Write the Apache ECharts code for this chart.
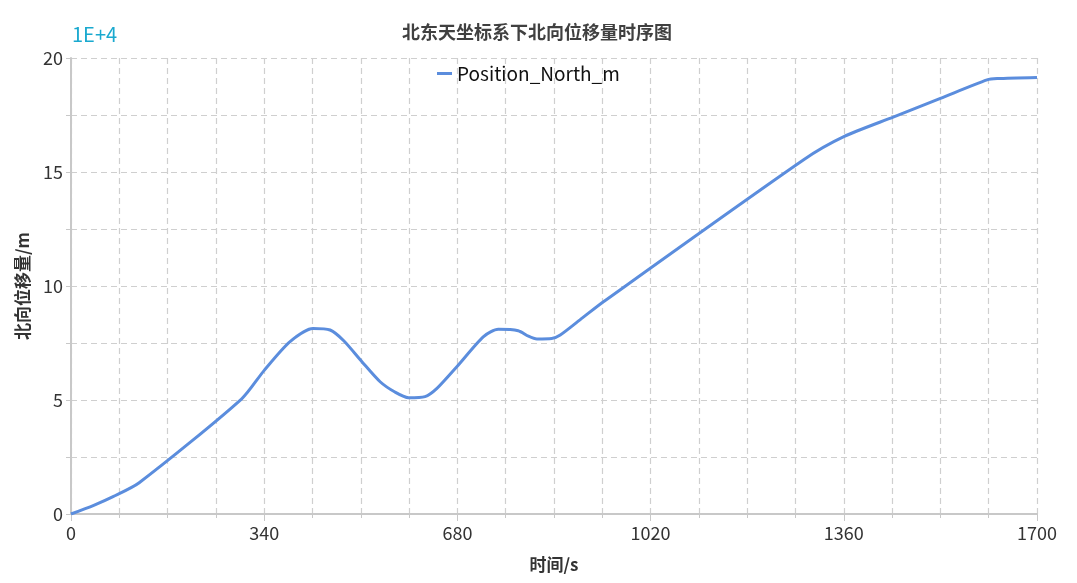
<!DOCTYPE html>
<html>
<head>
<meta charset="utf-8">
<script src="https://cdn.jsdelivr.net/npm/echarts@6/dist/echarts.min.js"></script>
<style>
html,body{margin:0;padding:0;background:#fff;}
#chart{width:1077px;height:583px;}
</style>
</head>
<body>
<div id="chart"></div>
<script>
// time (s)
var timeS = [0, 40, 74, 120, 300, 340, 385, 426, 456, 480, 512, 544, 570, 594, 623, 644, 679, 726, 752, 787, 805, 820, 846, 861, 900, 937, 1290, 1360, 1448, 1530, 1612, 1630, 1700];
// north displacement (x 1E+4 m)
var northPos = [0, 0.38, 0.76, 1.37, 5.04, 6.3, 7.55, 8.14, 8.07, 7.6, 6.68, 5.8, 5.35, 5.1, 5.15, 5.51, 6.46, 7.78, 8.1, 8.04, 7.8, 7.68, 7.7, 7.85, 8.6, 9.31, 15.55, 16.55, 17.42, 18.23, 19.04, 19.1, 19.15];
var seriesName = 'Position_North_m';
var titleText = '北东天坐标系下北向位移量时序图';
var xName = '时间/s';
var yName = '北向位移量/m';
var unitText = '1E+4';

var pts = timeS.map(function (t, i) { return [t, northPos[i]]; });
var font = '"Noto Sans CJK SC", "Noto Sans", sans-serif';
var chart = echarts.init(document.getElementById('chart'));
chart.setOption({
  backgroundColor: '#fff',
  animation: false,
  title: {
    text: titleText, left: 397, top: 18,
    textStyle: { fontSize: 18, fontWeight: 'bold', color: '#404040', fontFamily: font }
  },
  legend: {
    data: [seriesName], left: 432, top: 59, icon: 'rect', itemWidth: 15, itemHeight: 3, itemGap: 4,
    textStyle: { fontSize: 19, color: '#111', fontFamily: font }
  },
  graphic: [{
    type: 'text', left: 72, top: 24,
    style: { text: unitText, fill: '#1aa9cf', fontSize: 20, fontFamily: font }
  }],
  grid: { left: 71, right: 40, top: 58, bottom: 69 },
  xAxis: {
    type: 'value', min: 0, max: 1700, interval: 340,
    name: xName, nameLocation: 'middle', nameGap: 42,
    nameTextStyle: { fontSize: 17, fontWeight: 'bold', color: '#333', fontFamily: font },
    axisLine: { show: true, lineStyle: { color: '#c8c8c8', width: 2 } },
    axisTick: { show: true, length: 7, lineStyle: { color: '#c8c8c8' } },
    minorTick: { show: true, splitNumber: 4, length: 4, lineStyle: { color: '#c8c8c8' } },
    axisLabel: { fontSize: 18, color: '#333', margin: 10, fontFamily: font, formatter: function (v) { return String(v); } },
    splitLine: { show: true, lineStyle: { color: '#cfcfcf', type: [6, 4], width: 1.2 } },
    minorSplitLine: { show: true, lineStyle: { color: '#cfcfcf', type: [6, 4], width: 1.2 } }
  },
  yAxis: {
    type: 'value', min: 0, max: 20, interval: 5,
    name: yName, nameLocation: 'middle', nameGap: 40,
    nameTextStyle: { fontSize: 17, fontWeight: 'bold', color: '#333', fontFamily: font },
    axisLine: { show: true, lineStyle: { color: '#c8c8c8', width: 2 } },
    axisTick: { show: true, length: 5, lineStyle: { color: '#c8c8c8' } },
    minorTick: { show: true, splitNumber: 2, length: 5, lineStyle: { color: '#c8c8c8' } },
    axisLabel: { fontSize: 18, color: '#333', margin: 8, fontFamily: font },
    splitLine: { show: true, lineStyle: { color: '#cfcfcf', type: [6, 4], width: 1.2 } },
    minorSplitLine: { show: true, lineStyle: { color: '#cfcfcf', type: [6, 4], width: 1.2 } }
  },
  series: [{
    name: seriesName, type: 'line', data: pts, showSymbol: false, smooth: 0.25,
    lineStyle: { color: '#5b8ddd', width: 3 }, itemStyle: { color: '#5b8ddd' }
  }]
});
</script>
</body>
</html>
